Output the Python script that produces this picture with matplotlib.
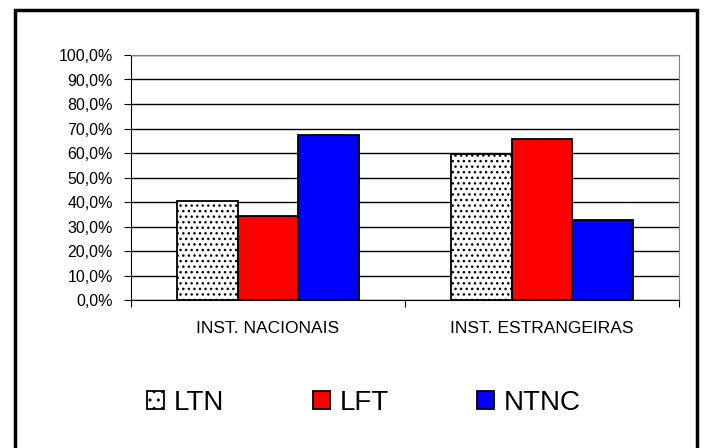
import numpy as np
import matplotlib.pyplot as plt
from matplotlib.patches import Rectangle, Patch
from matplotlib.ticker import FuncFormatter

plt.rcParams['font.family'] = ['Liberation Sans', 'DejaVu Sans']
plt.rcParams['hatch.linewidth'] = 1.0

categorias = ['INST. NACIONAIS', 'INST. ESTRANGEIRAS']
series = ['LTN', 'LFT', 'NTNC']
ltn = [40.3, 59.7]
lft = [34.2, 65.8]
ntnc = [67.3, 32.7]

fig = plt.figure(figsize=(7.13, 4.48), dpi=100)
# moldura externa
fig.patches.append(Rectangle((15 / 713, -0.05), 682 / 713, 1.05 - 10 / 448,
                             transform=fig.transFigure, fill=False,
                             edgecolor='black', linewidth=2.5, zorder=0))

ax = fig.add_axes([131 / 713, 1 - 300 / 448, 548 / 713, 245 / 448])
x = np.arange(len(categorias))
w = 0.221
b1 = ax.bar(x - w, ltn, w, color='white', edgecolor='black', hatch='...', linewidth=1.3, zorder=3)
b2 = ax.bar(x, lft, w, color='#ff0000', edgecolor='black', linewidth=1.3, zorder=3)
b3 = ax.bar(x + w, ntnc, w, color='#0000ff', edgecolor='black', linewidth=1.3, zorder=3)

ax.set_ylim(0, 100)
ax.set_xlim(-0.5, 1.5)
ax.set_yticks(np.arange(0, 101, 10))
ax.yaxis.set_major_formatter(FuncFormatter(lambda v, p: f'{v:.1f}%'.replace('.', ',')))
ax.tick_params(axis='y', labelsize=11.5, length=5, direction='out', pad=8)
ax.grid(axis='y', color='black', linewidth=1, zorder=1)

ax.set_xticks([-0.5, 0.5, 1.5])
ax.set_xticklabels([])
ax.tick_params(axis='x', which='major', length=5, direction='out')
ax.set_xticks(x, minor=True)
ax.set_xticklabels(categorias, minor=True)
ax.tick_params(axis='x', which='minor', length=0, pad=15, labelsize=12.5)

for s in ['top', 'right']:
    ax.spines[s].set_color('#808080')
for s in ['left', 'bottom']:
    ax.spines[s].set_color('black')

handles = [Patch(facecolor='white', edgecolor='black', hatch='..', linewidth=1.3),
           Patch(facecolor='#ff0000', edgecolor='black', linewidth=1.3),
           Patch(facecolor='#0000ff', edgecolor='black', linewidth=1.3)]
fig.legend(handles, series, loc='center', bbox_to_anchor=(364 / 713, 1 - 403 / 448),
           ncol=3, frameon=False, fontsize=20, handlelength=0.6, handleheight=0.6,
           handletextpad=0.35, columnspacing=3.2)

fig.savefig('out.png', dpi=100)
